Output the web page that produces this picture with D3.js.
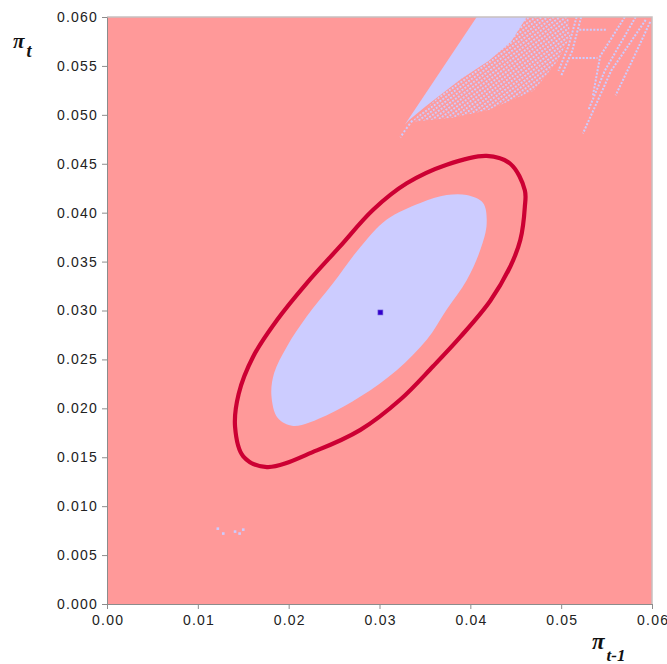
<!DOCTYPE html>
<html>
<head>
<meta charset="utf-8">
<script src="https://cdn.jsdelivr.net/npm/d3@7"></script>
<style>
  body { margin: 0; background: #fff; }
  .eje text { font-family: 'Liberation Sans', Arial, sans-serif; font-size: 14px; letter-spacing: 1.2px; fill: #222; }
  .eje path, .eje line { stroke: #8c8c8c; }
  .titulo { font-family: 'Liberation Serif', 'Times New Roman', serif; font-weight: bold; font-style: italic; fill: #111; }
</style>
</head>
<body>
<div id="graf"></div>
<script>
// I.
ticksX = [0, 0.01, 0.02, 0.03, 0.04, 0.05, 0.06]
ticksY = [0, 0.005, 0.01, 0.015, 0.02, 0.025, 0.03, 0.035, 0.04, 0.045, 0.05, 0.055, 0.06]

// contorno rojo
contornoX = [0.0418, 0.0444, 0.0460, 0.0460, 0.0455, 0.0444, 0.0422, 0.0389, 0.0359, 0.0323, 0.0279, 0.0231,
             0.0176, 0.0150, 0.0141, 0.0145, 0.0161, 0.0187, 0.0220, 0.0256, 0.0293, 0.0330, 0.0374]
contornoY = [0.0458, 0.0450, 0.0423, 0.0406, 0.0372, 0.0345, 0.0310, 0.0273, 0.0243, 0.0209, 0.0178, 0.0157,
             0.0140, 0.0151, 0.0181, 0.0215, 0.0253, 0.0290, 0.0328, 0.0365, 0.0403, 0.0430, 0.0449]

// region lila interior
regionX = [0.0396, 0.0414, 0.0418, 0.0411, 0.0396, 0.0374, 0.0352, 0.0319, 0.0279, 0.0242, 0.0205,
           0.0188, 0.0181, 0.0184, 0.0198, 0.0220, 0.0249, 0.0279, 0.0308, 0.0345, 0.0374]
regionY = [0.0418, 0.0410, 0.0389, 0.0362, 0.0331, 0.0301, 0.0270, 0.0239, 0.0212, 0.0193, 0.0182,
           0.0190, 0.0213, 0.0236, 0.0263, 0.0294, 0.0328, 0.0365, 0.0393, 0.0410, 0.0418]

// franja arriba (parte solida y parte punteada)
franjaX = [0.0407, 0.0462, 0.0445, 0.0420, 0.0390, 0.0350, 0.0333, 0.0328]
franjaY = [0.0600, 0.0600, 0.0575, 0.0555, 0.0537, 0.0508, 0.0495, 0.0490]
tramaX  = [0.0462, 0.0508, 0.0510, 0.0496, 0.0470, 0.0420, 0.0380, 0.0335]
tramaY  = [0.0600, 0.0600, 0.0580, 0.0555, 0.0525, 0.0505, 0.0497, 0.0493]
colaX   = [0.0336, 0.0328, 0.0323]
colaY   = [0.0494, 0.0484, 0.0477]

// rayas de la derecha
rayas = [
  { x: [0.0593, 0.0555, 0.0524], y: [0.0597, 0.0545, 0.0481] },
  { x: [0.0582, 0.0548, 0.0530], y: [0.0600, 0.0545, 0.0505] },
  { x: [0.0570, 0.0543, 0.0535], y: [0.0600, 0.0560, 0.0520] },
  { x: [0.0598, 0.0578, 0.0560], y: [0.0595, 0.0555, 0.0520] },
  { x: [0.0522, 0.0512, 0.0500], y: [0.0600, 0.0565, 0.0540] },
  { x: [0.0517, 0.0508, 0.0497], y: [0.0600, 0.0570, 0.0545] },
  { x: [0.0520, 0.0550], y: [0.0587, 0.0587] },
  { x: [0.0512, 0.0540], y: [0.0558, 0.0558] }
]

// puntos sueltos abajo a la izquierda
sueltosX = [0.0122, 0.0128, 0.0141, 0.0146, 0.0150]
sueltosY = [0.0077, 0.0072, 0.0074, 0.0072, 0.0076]

// punto central
centroX = [0.0301]
centroY = [0.0298]

// II. Configuracion
ancho_total = 667
alto_total = 664
margins = { top: 17, left: 107, right: 15, bottom: 60 }
ancho = ancho_total - margins.left - margins.right
alto = alto_total - margins.top - margins.bottom

svg = d3.select('#graf').append('svg')
        .attr('width', ancho_total)
        .attr('height', alto_total)

g = svg.append('g')
       .attr('transform', `translate(${ margins.left }, ${ margins.top })`)

x = d3.scaleLinear().domain([0, 0.06]).range([0, ancho])
y = d3.scaleLinear().domain([0, 0.06]).range([alto, 0])

defs = svg.append('defs')
trama = defs.append('pattern')
            .attr('id', 'trama')
            .attr('width', 3.5).attr('height', 3.5)
            .attr('patternUnits', 'userSpaceOnUse')
            .attr('patternTransform', 'rotate(-35)')
trama.append('rect').attr('width', 2).attr('height', 2).attr('fill', '#ccccff')

defs.append('clipPath').attr('id', 'recorte')
    .append('rect').attr('width', ancho).attr('height', alto)

// fondo
g.append('rect')
 .attr('width', ancho)
 .attr('height', alto)
 .attr('fill', '#ff9999')

zona = g.append('g').attr('clip-path', 'url(#recorte)')

cerrada = d3.line().x(d => x(d[0])).y(d => y(d[1])).curve(d3.curveCatmullRomClosed.alpha(0.5))
abierta = d3.line().x(d => x(d[0])).y(d => y(d[1])).curve(d3.curveLinear)
junta = (xs, ys) => xs.map((v, i) => [v, ys[i]])

// franja superior
zona.append('path')
    .attr('d', abierta(junta(tramaX, tramaY)) + 'Z')
    .attr('fill', 'url(#trama)')
zona.append('path')
    .attr('d', abierta(junta(franjaX, franjaY)) + 'Z')
    .attr('fill', '#ccccff')
zona.append('path')
    .attr('d', abierta(junta(colaX, colaY)))
    .attr('fill', 'none')
    .attr('stroke', '#ccccff')
    .attr('stroke-width', 2)
    .attr('stroke-dasharray', '2,2')

zona.selectAll('.raya')
    .data(rayas)
    .enter()
    .append('path')
      .attr('class', 'raya')
      .attr('d', d => abierta(junta(d.x, d.y)))
      .attr('fill', 'none')
      .attr('stroke', '#ccccff')
      .attr('stroke-width', 2)
      .attr('stroke-dasharray', '2,1.5')

zona.selectAll('.suelto')
    .data(junta(sueltosX, sueltosY))
    .enter()
    .append('rect')
      .attr('class', 'suelto')
      .attr('x', d => x(d[0]) - 1.3)
      .attr('y', d => y(d[1]) - 1.3)
      .attr('width', 2.6).attr('height', 2.6)
      .attr('fill', '#ccccff')

// region interior
zona.append('path')
    .attr('d', cerrada(junta(regionX, regionY)))
    .attr('fill', '#ccccff')

// contorno
zona.append('path')
    .attr('d', cerrada(junta(contornoX, contornoY)))
    .attr('fill', 'none')
    .attr('stroke', '#cc0033')
    .attr('stroke-width', 4.2)

// punto central
zona.selectAll('.centro')
    .data(junta(centroX, centroY))
    .enter()
    .append('rect')
      .attr('class', 'centro')
      .attr('x', d => x(d[0]) - 2.5)
      .attr('y', d => y(d[1]) - 2.5)
      .attr('width', 5).attr('height', 5)
      .attr('fill', '#3300cc')
      .attr('stroke', '#7766dd')
      .attr('stroke-width', 0.6)

// borde del area
g.append('path')
 .attr('d', `M0,0H${ ancho }V${ alto }`)
 .attr('fill', 'none')
 .attr('stroke', '#c8c0c0')
 .attr('stroke-width', 1.5)

// III. Ejes
xAxisGroup = g.append('g')
              .attr('class', 'eje')
              .attr('transform', `translate(0, ${ alto })`)
              .call(d3.axisBottom(x).tickValues(ticksX).tickFormat(d3.format('.2f')).tickSize(5).tickSizeOuter(0))
xAxisGroup.selectAll('text').attr('dy', '0.95em').attr('dx', '0.6px')

yAxisGroup = g.append('g')
              .attr('class', 'eje')
              .call(d3.axisLeft(y).tickValues(ticksY).tickFormat(d3.format('.3f')).tickSize(5).tickSizeOuter(0))
yAxisGroup.selectAll('text').attr('x', -9)

// titulos de los ejes
ty = svg.append('text').attr('class', 'titulo').attr('x', 13).attr('y', 48)
ty.append('tspan').attr('font-size', '21px').text('π')
ty.append('tspan').attr('font-size', '18px').attr('dx', 2).attr('dy', 9).text('t')

tx = svg.append('text').attr('class', 'titulo').attr('x', 592).attr('y', 649)
tx.append('tspan').attr('font-size', '23px').text('π')
tx.append('tspan').attr('font-size', '17px').attr('dx', 2).attr('dy', 12).text('t-1')
</script>
</body>
</html>
